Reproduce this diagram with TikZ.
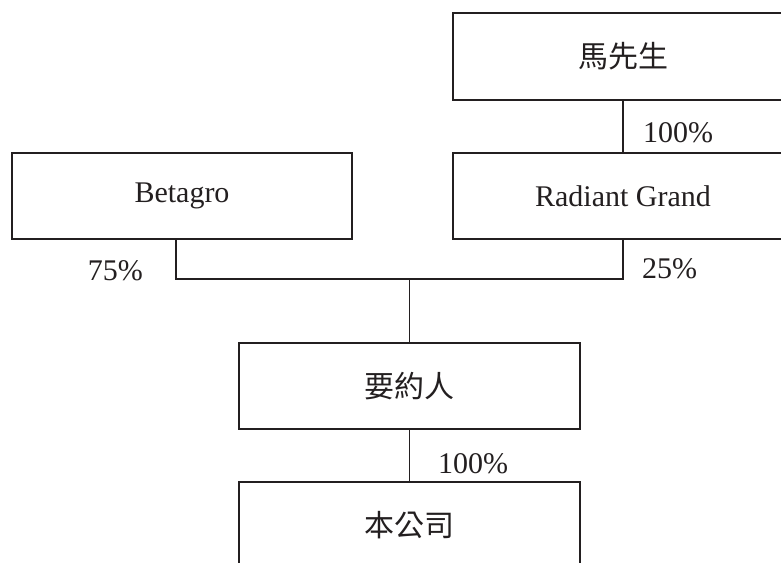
\documentclass[tikz,border=0pt]{standalone}
\usepackage{fontspec}
\setmainfont{Liberation Serif}
\newfontfamily\cjk{Noto Sans CJK TC}
\usetikzlibrary{calc}
\definecolor{ink}{HTML}{231F20}
\begin{document}
\begin{tikzpicture}[x=1pt,y=1pt,
  box/.style={draw=ink,line width=1.1pt,minimum width=340pt,minimum height=86pt,inner sep=0pt,text=ink,font=\fontsize{30}{36}\selectfont},
  conn/.style={draw=ink,line width=1.1pt},
  pct/.style={inner sep=0pt,text=ink,font=\fontsize{30}{36}\selectfont}]
\useasboundingbox (0,0) rectangle (781,-562);
\clip (0,0) rectangle (781,-562);
\node[box,minimum height=87pt] (ma) at (623,-56.5) {\cjk 馬先生};
\node[box] (rg) at (623,-196) {Radiant Grand};
\node[box] (b) at (182,-196) {Betagro};
\node[box,minimum width=341pt] (s) at (409.5,-386) {\cjk 要約人};
\node[box,minimum width=341pt] (c) at (409.5,-525) {\cjk 本公司};
\coordinate (j) at (409.5,-279);
\draw[conn] (ma.south) -- (rg.north);
\draw[conn] ([xshift=-6pt]b.south) |- (j) -| (rg.south);
\draw[conn] (j) -- (s.north);
\draw[conn] (s.south) -- (c.north);
\node[pct,anchor=base west] (p1) at (643,-142) {100\%};
\node[pct,anchor=base east] (p2) at (143,-280) {75\%};
\node[pct,anchor=base west] (p3) at (642,-278) {25\%};
\node[pct,anchor=base west] (p4) at (438,-473) {100\%};
\end{tikzpicture}
\end{document}
